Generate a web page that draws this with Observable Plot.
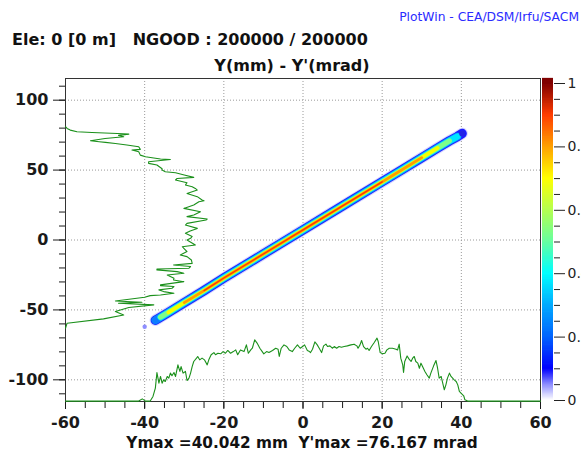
<!DOCTYPE html>
<html>
<head>
<meta charset="utf-8">
<script src="https://cdn.jsdelivr.net/npm/d3@7"></script>
<script src="https://cdn.jsdelivr.net/npm/@observablehq/plot@0.6"></script>
<style>
  html, body { margin: 0; padding: 0; background: #fff; overflow: hidden; width: 581px; height: 454px; }
  #wrap { position: relative; width: 581px; height: 454px; overflow: hidden; }
  #wrap svg { position: absolute; left: 0; top: 0; }
  .txt { position: absolute; white-space: pre; font-family: "DejaVu Sans", sans-serif; font-weight: bold; color: #111; font-size: 16px; line-height: 1; }
  #credit { font-weight: normal; font-size: 12.3px; color: #2b2bff; right: 2px; top: 11px; }
  #head { left: 12px; top: 32px; }
  #title { left: 292px; top: 58px; transform: translateX(-50%); }
  #foot { left: 302px; top: 436px; transform: translateX(-50%); font-size: 15.3px; }
</style>
</head>
<body>
<div id="wrap">
  <div class="txt" id="credit">PlotWin - CEA/DSM/Irfu/SACM</div>
  <div class="txt" id="head">Ele: 0 [0 m]   NGOOD : 200000 / 200000</div>
  <div class="txt" id="title">Y(mm) - Y'(mrad)</div>
  <div class="txt" id="foot">Ymax =40.042 mm  Y'max =76.167 mrad</div>
</div>
<script>
// Axis ticks
const xMajor = [-60, -40, -20, 0, 20, 40, 60];
const xMinor = [-60, -55, -50, -45, -40, -35, -30, -25, -20, -15, -10, -5, 0, 5, 10, 15, 20, 25, 30, 35, 40, 45, 50, 55, 60];
const yMajor = [-100, -50, 0, 50, 100];
const yMinor = [-110, -100, -90, -80, -70, -60, -50, -40, -30, -20, -10, 0, 10, 20, 30, 40, 50, 60, 70, 80, 90, 100, 110];

// Beam core: centre line of the Y - Y' distribution
const beamX = [-37.3, -36.0, -34.0, -30.0, -25.0, -20.0, -10.0, 0.0, 10.0, 20.0, 25.0, 30.0, 34.0, 37.0, 39.0, 40.2];
const beamY = [-57.4, -55.2, -51.8, -44.8, -36.2, -27.2, -10.0, 7.2, 24.4, 41.6, 50.2, 58.9, 65.8, 70.9, 74.0, 76.2];

// Isolated particle
const strayX = [-40.0];
const strayY = [-62.0];

// Projection on Y (drawn along the bottom)
const bottomX = [-60, -41.5, -40.6, -39.8, -38.6, -37.9, -37.3, -36.9, -36.4, -36.0,
  -35.6, -35.2, -34.8, -34.3, -33.9, -33.5, -33.1, -32.6, -32.2, -31.6,
  -31.1, -30.8, -30.3, -29.7, -29.3, -28.8, -28.4, -28.0, -27.6, -26.9,
  -26.6, -26.1, -25.5, -24.9, -24.2, -23.8, -23.2, -22.5, -22.1, -21.5,
  -20.8, -20.2, -19.6, -19.0, -18.3, -17.6, -17.0, -16.5, -15.8, -14.9,
  -14.3, -13.8, -13.2, -12.8, -12.2, -11.6, -10.9, -10.3, -9.9, -9.2,
  -8.6, -7.7, -6.9, -6.3, -6.0, -5.5, -4.8, -4.1, -3.5, -2.7,
  -2.1, -1.4, -0.7, -0.1, 0.4, 1.1, 1.5, 1.9, 2.4, 3.0,
  3.6, 4.1, 4.7, 5.2, 5.8, 6.2, 6.8, 7.4, 7.9, 8.5,
  9.1, 9.7, 10.4, 11.2, 12.1, 12.9, 13.6, 13.9, 14.4, 14.8,
  15.3, 15.9, 16.3, 16.7, 17.3, 18.0, 18.7, 19.0, 19.5, 20.1,
  20.7, 21.2, 21.8, 22.6, 23.5, 23.9, 24.3, 24.7, 25.2, 25.4,
  25.7, 26.3, 26.8, 27.3, 27.7, 28.1, 28.5, 29.0, 29.4, 29.8,
  30.2, 30.8, 31.3, 31.9, 32.3, 33.0, 33.6, 34.0, 34.4, 34.9,
  35.3, 35.7, 36.1, 36.5, 37.0, 37.4, 38.2, 38.7, 39.1, 39.5,
  40.1, 40.6, 40.9, 41.6, 60];
const bottomY = [-115.2, -115.2, -113.6, -115.2, -115.2, -111.9, -105.9, -94.8, -102.4, -97.6,
  -102.4, -100.0, -101.2, -97.6, -98.8, -95.2, -97.1, -94.8, -97.6, -89.3,
  -94.0, -90.5, -95.2, -94.0, -100.5, -98.8, -95.2, -90.5, -86.9, -84.5,
  -83.3, -85.7, -84.5, -85.7, -89.3, -85.7, -82.1, -80.5, -82.1, -81.0,
  -81.4, -79.8, -81.0, -79.0, -81.0, -79.8, -78.6, -82.1, -78.6, -79.8,
  -75.0, -81.0, -78.6, -77.4, -71.4, -73.7, -77.4, -79.8, -81.4, -79.8,
  -80.5, -79.0, -77.4, -78.1, -83.3, -77.4, -75.0, -76.2, -78.6, -79.8,
  -77.4, -75.0, -77.4, -76.2, -75.0, -79.0, -79.5, -80.5, -78.1, -72.9,
  -75.0, -77.4, -80.5, -75.7, -74.5, -76.2, -75.7, -77.4, -76.2, -77.4,
  -76.2, -76.7, -76.2, -75.7, -75.0, -74.5, -75.7, -77.4, -75.0, -71.9,
  -76.2, -78.1, -77.4, -79.0, -76.2, -73.3, -70.2, -72.6, -80.5, -81.4,
  -81.0, -78.6, -77.4, -77.4, -78.1, -78.6, -74.5, -84.5, -89.3, -94.8,
  -86.9, -82.9, -85.2, -86.9, -84.5, -83.3, -86.9, -88.1, -91.7, -88.1,
  -90.5, -94.0, -96.4, -98.8, -95.2, -90.0, -86.2, -91.7, -98.8, -97.6,
  -102.4, -107.1, -103.6, -98.8, -95.2, -97.6, -100.0, -101.2, -103.6, -108.3,
  -110.0, -111.4, -114.3, -115.2, -115.2];

// Projection on Y' (drawn along the left side)
const leftY = [81.0, 79.8, 78.6, 77.4, 76.9, 76.2, 75.7, 74.8, 73.8, 72.6,
  71.0, 70.3, 69.8, 69.0, 67.9, 66.7, 64.8, 64.3, 63.1, 60.7,
  59.5, 57.9, 57.6, 56.0, 54.8, 53.6, 51.0, 50.0, 48.8, 48.1,
  46.5, 44.8, 44.0, 42.9, 41.0, 39.3, 38.1, 36.9, 35.7, 33.3,
  31.0, 28.6, 28.1, 27.4, 25.0, 22.6, 20.2, 17.9, 16.7, 15.0,
  14.3, 11.9, 10.7, 8.3, 6.5, 4.8, 2.5, 1.2, 0.0, -3.6,
  -4.8, -6.0, -8.3, -10.7, -11.9, -14.3, -16.7, -17.9, -19.0, -20.2,
  -20.7, -21.4, -22.6, -23.8, -25.0, -27.4, -28.6, -29.8, -32.1, -32.6,
  -33.3, -34.5, -35.7, -36.9, -38.1, -39.3, -39.8, -41.0, -43.6, -44.5,
  -45.2, -46.4, -48.3, -51.2, -53.6, -56.4, -59.5, -63.1];
const leftX = [-60.0, -59.6, -58.8, -57.1, -53.3, -46.9, -44.0, -46.6, -45.3, -50.0,
  -53.7, -51.5, -49.9, -47.4, -44.5, -41.5, -41.1, -43.2, -41.5, -41.1,
  -39.8, -36.0, -33.5, -39.0, -39.0, -36.9, -35.6, -35.6, -34.8, -32.2,
  -30.0, -27.6, -31.8, -32.2, -29.3, -29.7, -28.0, -27.2, -26.7, -29.3,
  -26.7, -25.5, -25.0, -26.3, -27.6, -30.1, -25.9, -27.6, -29.3, -24.2,
  -24.5, -29.3, -29.7, -26.7, -28.5, -29.7, -28.0, -28.4, -29.3, -27.2,
  -30.5, -30.1, -29.3, -31.0, -29.3, -28.2, -28.0, -32.7, -28.4, -28.8,
  -36.9, -36.9, -31.8, -30.1, -34.3, -32.6, -32.7, -30.1, -36.0, -36.0,
  -32.6, -33.1, -36.4, -35.2, -32.6, -36.0, -38.6, -40.0, -47.4, -40.7,
  -46.6, -37.7, -44.0, -47.4, -45.3, -50.4, -59.6, -60.0];

// Colour bar
const barTicks = [0, 0.2, 0.4, 0.6, 0.8, 1];
const barMinor = [0.05, 0.1, 0.15, 0.25, 0.3, 0.35, 0.45, 0.5, 0.55, 0.65, 0.7, 0.75, 0.85, 0.9, 0.95];
const barStops = [0, 0.05, 0.1, 0.2, 0.3, 0.4, 0.5, 0.6, 0.7, 0.8, 0.9, 1];
const barColors = ["#ffffff", "#8c8cff", "#0000ff", "#0064ff", "#00aaff", "#00ffff", "#66ffa0", "#b4ff50", "#ffff00", "#ffa000", "#ff3c00", "#800000"];

const last = beamX.length - 1;

// Nested strokes give the density bands, densest at the centre
const layers = [
  {from: 0, to: last, w: 11.5, c: "#d4d4ff", o: 0.9},
  {from: 0, to: last, w: 9.4, c: "#1e1eff", o: 1},
  {from: 0, to: last - 1, w: 7.9, c: "#0a7cff", o: 1},
  {from: 1, to: last - 1, w: 6.4, c: "#00e6ff", o: 1},
  {from: 1, to: last - 2, w: 5.0, c: "#7dff8a", o: 1},
  {from: 2, to: last - 3, w: 3.8, c: "#f5ff00", o: 1},
  {from: 3, to: last - 4, w: 2.8, c: "#ff9c00", o: 1},
  {from: 4, to: last - 6, w: 1.4, c: "#ff3a00", o: 1}
];
const idx = beamX.map((_, i) => i);
const fmt = d => String(d);

const main = Plot.plot({
  width: 581,
  height: 454,
  marginLeft: 65,
  marginRight: 41,
  marginTop: 78,
  marginBottom: 53,
  x: {domain: [-60, 60], label: null},
  y: {domain: [-115.5, 115.5], label: null},
  style: {fontFamily: "DejaVu Sans, sans-serif", fontWeight: "bold", fontSize: "16px", color: "#1a1a1a", background: "transparent"},
  marks: [
    Plot.gridX(xMajor, {stroke: "#9a9a9a", strokeOpacity: 1, strokeDasharray: "1,2"}),
    Plot.gridY(yMajor, {stroke: "#9a9a9a", strokeOpacity: 1, strokeDasharray: "1,2"}),
    Plot.axisY(yMinor, {anchor: "left", tickSize: 6, tickFormat: () => "", label: null}),
    Plot.axisY(yMajor, {anchor: "left", tickSize: 12, tickPadding: 5, tickFormat: fmt, label: null, fontSize: 16, fontWeight: "bold"}),
    Plot.axisX(xMinor, {anchor: "bottom", tickSize: 7, tickFormat: () => "", label: null}),
    Plot.axisX(xMajor, {anchor: "bottom", tickSize: 8, tickPadding: 7, tickFormat: fmt, label: null, fontSize: 16, fontWeight: "bold"}),
    Plot.frame({stroke: "#333"}),
    ...layers.map(L => Plot.line(idx.slice(L.from, L.to + 1), {
      x: i => beamX[i], y: i => beamY[i], stroke: L.c, strokeWidth: L.w, strokeOpacity: L.o
    })),
    Plot.dot([last], {x: i => beamX[i], y: i => beamY[i], r: 3, fill: "#2323e6"}),
    Plot.dot(strayX.map((_, i) => i), {x: i => strayX[i], y: i => strayY[i], r: 2.2, fill: "#8e8eff"}),
    Plot.line(bottomX.map((_, i) => i), {x: i => bottomX[i], y: i => bottomY[i], stroke: "#1b901b", strokeWidth: 1.1}),
    Plot.line(leftX.map((_, i) => i), {x: i => leftX[i], y: i => leftY[i], stroke: "#1b901b", strokeWidth: 1.1})
  ]
});

// Soft edges on the density band and the particle dots
const svgMain = d3.select(main);
svgMain.insert("defs", ":first-child")
  .append("filter")
  .attr("id", "soft")
  .attr("filterUnits", "userSpaceOnUse")
  .attr("x", 0).attr("y", 0).attr("width", 581).attr("height", 454)
  .append("feGaussianBlur")
  .attr("stdDeviation", 0.6);
svgMain.selectAll('g[aria-label="line"]')
  .filter((d, i) => i < layers.length)
  .attr("filter", "url(#soft)");
svgMain.selectAll('g[aria-label="dot"]').attr("filter", "url(#soft)");

// Colour bar: value 1 at the top, 0 at the bottom
const step = 0.004;
const cells = d3.range(-0.01, 1.016, step);
const bar = Plot.plot({
  width: 581,
  height: 454,
  marginLeft: 542,
  marginRight: 28,
  marginTop: 83,
  marginBottom: 54,
  x: {domain: [0, 1], axis: null},
  y: {domain: [0, 1], label: null},
  color: {type: "linear", domain: barStops, range: barColors, clamp: true},
  style: {fontFamily: "DejaVu Sans, sans-serif", fontSize: "14px", color: "#222", background: "transparent"},
  marks: [
    Plot.rect(cells, {x1: 0, x2: 1, y1: d => d, y2: d => Math.min(d + step * 1.6, 1.016), fill: d => d + step / 2}),
    Plot.axisY(barMinor, {anchor: "right", tickSize: 6, tickFormat: () => "", label: null}),
    Plot.axisY(barTicks, {anchor: "right", tickSize: 11, tickPadding: 3, tickFormat: fmt, label: null})
  ]
});

const wrap = document.getElementById("wrap");
wrap.prepend(bar);
wrap.prepend(main);
</script>
</body>
</html>
